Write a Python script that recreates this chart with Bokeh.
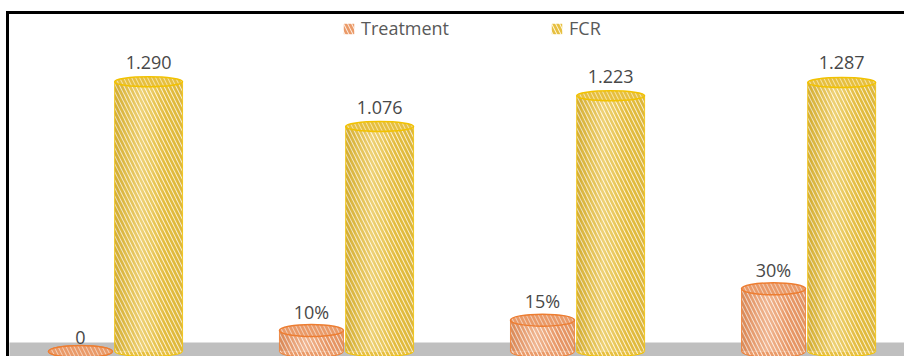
from bokeh.plotting import figure
from bokeh.models import Range1d, ColumnDataSource, Legend, LegendItem
from bokeh.core.properties import value
from bokeh.embed import file_html
from bokeh.resources import INLINE

# --- data -------------------------------------------------------------
groups = ["1", "2", "3", "4"]
treatment = [0.0, 0.10, 0.15, 0.30]
treatment_labels = ["0", "10%", "15%", "30%"]
fcr = [1.290, 1.076, 1.223, 1.287]
fcr_labels = ["1.290", "1.076", "1.223", "1.287"]

# --- canvas / scales ------------------------------------------------------
W, H = 904, 356
X0, X1 = -0.489, 3.424
Y0, Y1 = -0.024, 1.679
PX_X = W / (X1 - X0)
PX_Y = H / (Y1 - Y0)


def dx(px):
    return X0 + px / PX_X


def dy(py):
    return Y1 - py / PX_Y


p = figure(width=W, height=H, output_backend="svg", toolbar_location=None,
           x_range=Range1d(X0, X1), y_range=Range1d(Y0, Y1),
           min_border=0, min_border_left=0, min_border_right=0,
           min_border_top=0, min_border_bottom=0)
p.axis.visible = False
p.grid.visible = False
p.outline_line_color = None
p.background_fill_color = "white"
p.border_fill_color = "white"

# grey floor
p.quad(left=[dx(9)], right=[X1 + 0.1], bottom=[Y0 - 0.1], top=[dy(342)],
       fill_color="#BFBFBF", line_color=None)

# frame lines (top and left)
p.line(x=[dx(7), dx(7), X1 + 0.1], y=[Y0 - 0.1, dy(12), dy(12)],
       line_color="black", line_width=3, line_join="miter")

series = [
    dict(vals=treatment, labels=treatment_labels, off=-0.143, w=0.277, eh=12,
         fill="#FDEBDF", hatch="#EA9A68", top_fill="#F3CDB6", line="#ED7D31",
         shade="#8a3a10", lab_gap=1),
    dict(vals=fcr, labels=fcr_labels, off=0.152, w=0.294, eh=10,
         fill="#FFF6DA", hatch="#E6BF40", top_fill="#F6E3A2", line="#F2C200",
         shade="#7a5a00", lab_gap=8),
]

legend_renderers = []
for s in series:
    xs = [i + s["off"] for i in range(len(groups))]
    src = ColumnDataSource(dict(x=xs, top=s["vals"],
                                left=[x - s["w"] / 2 for x in xs],
                                right=[x + s["w"] / 2 for x in xs],
                                bottom=[0.0] * len(xs),
                                label=s["labels"]))
    hatch_kw = dict(hatch_pattern="\\", hatch_color=s["hatch"],
                    hatch_scale=8, hatch_weight=2.6, hatch_alpha=1.0)
    # bottom cap
    p.ellipse(x="x", y="bottom", width=s["w"], height=s["eh"],
              height_units="screen", source=src, fill_color=s["fill"],
              line_color=s["line"], line_width=1, **hatch_kw)
    # cylinder body
    body = p.quad(left="left", right="right", bottom="bottom", top="top",
                  source=src, fill_color=s["fill"], line_color=None, **hatch_kw)
    legend_renderers.append(body)
    # shading across the cylinder
    n = 14
    for k in range(n):
        t = (k + 0.5) / n
        light = max(0.0, 1 - abs(t - 0.4) / 0.35) * 0.28
        dark = (abs(t - 0.45) / 0.55) ** 2 * (0.26 if t < 0.45 else 0.08)
        sl = [l + k * s["w"] / n for l in src.data["left"]]
        sr = [l + (k + 1) * s["w"] / n for l in src.data["left"]]
        if light > 0.01:
            p.quad(left=sl, right=sr, bottom=[0.0] * len(xs), top=s["vals"],
                   fill_color="white", fill_alpha=light, line_color=None)
        if dark > 0.01:
            p.quad(left=sl, right=sr, bottom=[0.0] * len(xs), top=s["vals"],
                   fill_color=s["shade"], fill_alpha=dark, line_color=None)
    # side outlines
    p.segment(x0="left", y0="bottom", x1="left", y1="top", source=src,
              line_color=s["line"], line_width=1, line_alpha=0.8)
    p.segment(x0="right", y0="bottom", x1="right", y1="top", source=src,
              line_color=s["line"], line_width=1, line_alpha=0.8)
    # top cap
    p.ellipse(x="x", y="top", width=s["w"], height=s["eh"],
              height_units="screen", source=src, fill_color=s["top_fill"],
              line_color=s["line"], line_width=1.5, **hatch_kw)
    # value labels
    p.text(x="x", y="top", text="label", source=src,
           y_offset=-(s["eh"] / 2 + s["lab_gap"]), text_align="center",
           text_baseline="bottom", text_font=value("Open Sans"),
           text_font_size="18px", text_color="#484848")

legend = Legend(items=[LegendItem(label="Treatment", renderers=[legend_renderers[0]]),
                       LegendItem(label="FCR", renderers=[legend_renderers[1]])],
                orientation="horizontal", location=(342, 316),
                padding=0, margin=0, spacing=101,
                glyph_width=13, glyph_height=13, label_standoff=6,
                border_line_color=None, background_fill_alpha=0,
                label_text_font="Open Sans", label_text_font_size="18px",
                label_text_color="#595959")
p.add_layout(legend)

open("out.html", "w").write(file_html(p, INLINE))
